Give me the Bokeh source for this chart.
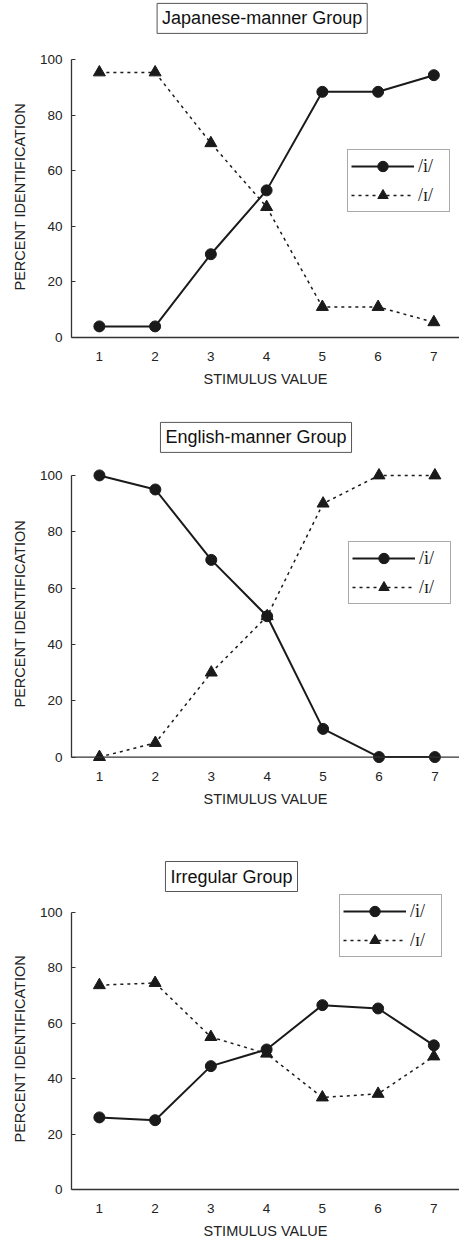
from bokeh.plotting import figure
from bokeh.models import Range1d, FixedTicker, Span, Label, Title
from bokeh.layouts import column
from bokeh.embed import file_html
from bokeh.resources import INLINE

stimulus = [1, 2, 3, 4, 5, 6, 7]
y_ticks = [0, 20, 40, 60, 80, 100]

jap_i = [4, 4, 30, 53, 88.5, 88.5, 94.5]
jap_I = [95.5, 95.5, 70, 47, 11, 11, 5.5]
eng_i = [100, 95, 70, 50, 10, 0, 0]
eng_I = [0, 5, 30, 50, 90, 100, 100]
irr_i = [26, 25, 44.5, 50.5, 66.5, 65.3, 52]
irr_I = [73.7, 74.5, 55, 49, 33.2, 34.5, 48]

titles = ["Japanese-manner Group", "English-manner Group", "Irregular Group"]
label_i = "/i/"
label_I = "/\u026a/"
x_title = "STIMULUS VALUE"
y_title = "PERCENT IDENTIFICATION"

FONT = "Liberation Sans"
INK = "#1a1a1a"
AX = "#333333"


def make_chart(title, yi, yI, height, left, bottom, xend, ylo, ytop,
               tx, ty, legend_loc, ylab_offset):
    p = figure(width=459, height=height,
               x_range=Range1d(0.5, xend), y_range=Range1d(-ylo, ytop),
               min_border_left=left, min_border_right=0,
               min_border_top=0, min_border_bottom=bottom,
               toolbar_location=None, output_backend="svg",
               outline_line_color=None, background_fill_color="white")
    p.grid.visible = False

    xa = p.xaxis[0]
    xa.ticker = FixedTicker(ticks=stimulus)
    xa.major_tick_in = 0
    xa.major_tick_out = 0
    xa.minor_tick_in = 0
    xa.minor_tick_out = 0
    xa.axis_label = x_title
    xa.axis_label_standoff = 7
    if ylo > 0:
        xa.axis_line_color = None
        xa.major_label_standoff = 6
        p.add_layout(Span(location=0, dimension="width", line_color=AX,
                          line_width=1.3))
    else:
        xa.axis_line_color = AX
        xa.axis_line_width = 1.3
        xa.major_label_standoff = 14

    ya = p.yaxis[0]
    ya.ticker = FixedTicker(ticks=y_ticks)
    ya.bounds = (0, 100)
    ya.major_tick_in = 4
    ya.major_tick_out = 0
    ya.minor_tick_in = 0
    ya.minor_tick_out = 0
    ya.major_tick_line_color = AX
    ya.axis_line_color = AX
    ya.axis_line_width = 1.3
    ya.major_label_standoff = 9

    for a in (xa, ya):
        a.major_label_text_font = FONT
        a.major_label_text_font_size = "13.5px"
        a.major_label_text_color = "#222222"
        a.axis_label_text_font = FONT
        a.axis_label_text_font_size = "14.5px"
        a.axis_label_text_font_style = "normal"
        a.axis_label_text_color = "#222222"

    p.add_layout(Title(text=y_title, align="left", offset=ylab_offset,
                       standoff=18, text_font=FONT,
                       text_font_size="14.5px", text_font_style="normal",
                       text_color="#222222"), "left")

    p.line(stimulus, yi, line_color=INK, line_width=2, legend_label=label_i)
    p.scatter(stimulus, yi, marker="circle", size=11, fill_color=INK,
              line_color=INK, legend_label=label_i)
    p.line(stimulus, yI, line_color=INK, line_width=1.5, line_dash="3 4",
           legend_label=label_I)
    p.scatter(stimulus, yI, marker="triangle", size=12, fill_color=INK,
              line_color=INK, legend_label=label_I)

    lg = p.legend[0]
    lg.location = legend_loc
    lg.glyph_width = 63
    lg.glyph_height = 26
    lg.label_height = 20
    lg.label_width = 28
    lg.label_standoff = 4
    lg.spacing = 3
    lg.padding = 3
    lg.margin = 0
    lg.border_line_color = "#555555"
    lg.border_line_width = 1
    lg.background_fill_color = "white"
    lg.background_fill_alpha = 1
    lg.label_text_font = "Liberation Serif"
    lg.label_text_font_size = "18px"
    lg.label_text_color = INK

    p.add_layout(Label(x=tx, y=ty, text=title, text_align="center",
                       text_baseline="middle", text_font=FONT,
                       text_font_size="18px", text_color="#111111",
                       border_line_color="#555555", border_line_width=1,
                       background_fill_color="white", padding=5))
    return p


p1 = make_chart(titles[0], jap_i, jap_I, 400, 69, 63, 7.46, 0, 121.4,
                3.92, 114.95, (276, 125), 47)
p2 = make_chart(titles[1], eng_i, eng_I, 420, 65, 55, 7.44, 3, 126.6,
                3.80, 113.5, (277, 161), 58)
p3 = make_chart(titles[2], irr_i, irr_I, 421, 67, 51, 7.46, 0, 133.1,
                3.37, 112.9, (268, 232), 47)

layout = column(p1, p2, p3, spacing=0)
open("out.html", "w").write(file_html(layout, INLINE))
